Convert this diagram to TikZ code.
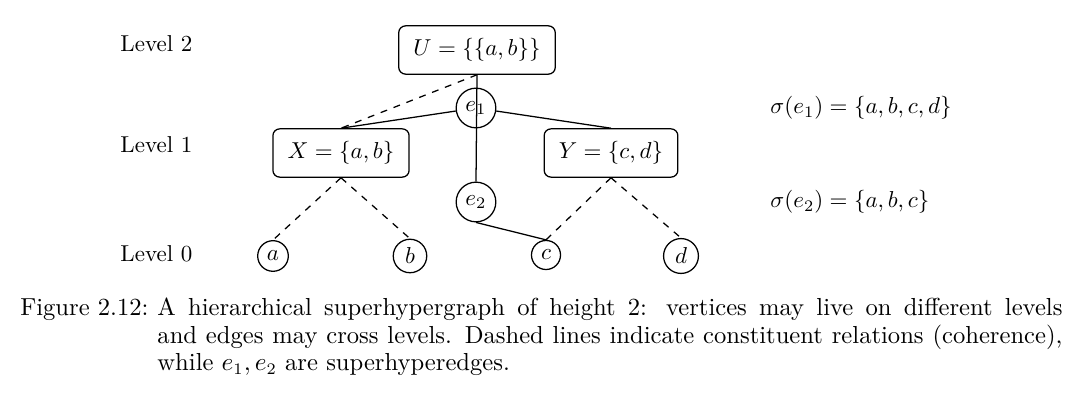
\documentclass[tikz,border=0pt]{standalone}
\usepackage{amsmath}
\tikzset{
  setbox/.style={draw, rounded corners=3pt, inner xsep=6.4pt, inner ysep=5.5pt, line width=0.55pt},
  vtx/.style={draw, circle, inner sep=2.3pt, line width=0.55pt},
  hedge/.style={draw, circle, inner sep=2.3pt, line width=0.55pt},
  link/.style={line width=0.55pt},
  constit/.style={dashed, line width=0.55pt},
  captxt/.style={inner sep=0pt, font=\fontsize{10.7}{11.9}\selectfont},
}
\begin{document}
\begin{tikzpicture}[x=0.4348pt, y=-0.4348pt]
\useasboundingbox (0,0) rectangle (1080,414);
% level labels
\node[anchor=base west, inner sep=0pt] (L2) at (120,52) {Level 2};
\node[anchor=base west, inner sep=0pt] (L1) at (120,153) {Level 1};
\node[anchor=base west, inner sep=0pt] (L0) at (120,262) {Level 0};
% nodes
\node[setbox] (U) at (477,50) {$U=\{\{a,b\}\}$};
\node[setbox] (X) at (341,153) {$X=\{a,b\}$};
\node[setbox] (Y) at (611,153) {$Y=\{c,d\}$};
\node[hedge] (e1) at (476,108) {$e_1$};
\node[hedge] (e2) at (476,202) {$e_2$};
\node[vtx] (a) at (273,256) {$a$};
\node[vtx] (b) at (410,256) {$b$};
\node[vtx] (c) at (546,255) {$c$};
\node[vtx] (d) at (681,256) {$d$};
% sigma labels
\node[anchor=base west, inner sep=0pt] (s1) at (770,114) {$\sigma(e_1)=\{a,b,c,d\}$};
\node[anchor=base west, inner sep=0pt] (s2) at (770,208) {$\sigma(e_2)=\{a,b,c\}$};
% connectors
\draw[constit] (U.south) -- (X.north);
\draw[link] (U.south) -- (e2.north);
\draw[link] (e1) -- (X.north);
\draw[link] (e1) -- (Y.north);
\draw[link] (e2.south) -- (c.north);
\draw[constit] (X.south) -- (a.north);
\draw[constit] (X.south) -- (b.north);
\draw[constit] (Y.south) -- (c.north);
\draw[constit] (Y.south) -- (d.north);
% caption
\node[captxt, anchor=base east] (caplab) at (149,316) {Figure 2.12:};
\node[captxt, anchor=base west, text width=393.5pt, align=justify] (captext) at (157,316)
{A hierarchical superhypergraph of height 2: vertices may live on different levels\linebreak
and edges may cross levels. Dashed lines indicate constituent relations (coherence),\linebreak
while $e_1, e_2$ are superhyperedges.};
\end{tikzpicture}
\end{document}
